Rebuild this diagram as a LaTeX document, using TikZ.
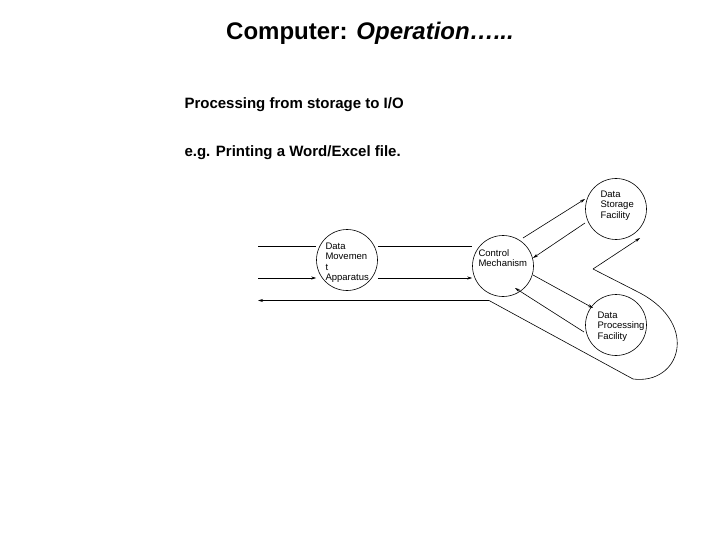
\documentclass[tikz,border=0pt]{standalone}
\usepackage{fontspec}
\setmainfont{Liberation Sans}
\usetikzlibrary{arrows.meta}
\begin{document}
\begin{tikzpicture}[x=1pt,y=-1pt,
  circ/.style={draw,circle,minimum size=61pt,inner sep=0pt,line width=0.6pt},
  lab/.style={font=\fontsize{9.5}{10.5}\selectfont,align=left},
  ln/.style={line width=0.6pt},
  ar/.style={ln,-{Stealth[length=5pt,width=3pt]}}]
\useasboundingbox (0,0) rectangle (720,540);
\node (title) at (370,33) {\fontsize{24}{28}\selectfont\bfseries Computer: \textit{Operation…...}};
\node[anchor=west] (s1) at (181,105) {\fontsize{15}{18}\selectfont\bfseries Processing from storage to I/O};
\node[anchor=west] (s2) at (181,153) {\fontsize{15}{18}\selectfont\bfseries e.g. Printing a Word/Excel file.};
\node[circ] (dma) at (347,260) {};
\node[lab,anchor=north west] at (322,239) {Data\\Movemen\\t\\Apparatus};
\node[circ] (cm) at (503,266) {};
\node[lab,anchor=north west] at (475,246) {Control\\Mechanism};
\node[circ] (dsf) at (616,209) {};
\node[lab,anchor=north west] at (597,187) {Data\\Storage\\Facility};
\node[circ] (dpf) at (616,325) {};
\node[lab,anchor=north west] at (594,308) {Data\\Processing\\Facility};
\coordinate (a1) at (258,246);
\coordinate (a2) at (258,278);
\coordinate (a3) at (258,300.5);
\draw[ln] (a1) -- (dma.west |- a1);
\draw[ln] (dma.east |- a1) -- (cm.west |- a1);
\draw[ar] (a2) -- (dma.west |- a2);
\draw[ar] (dma.east |- a2) -- (cm.west |- a2);
\draw[ar] (523,238) -- (585,199);
\draw[ar] (585,223) -- (533,258);
\draw[ar] (533,275) -- (593,308);
\draw[ar] (584,332) -- (515,288);
\coordinate (v) at (593,269);
\coordinate (t) at (640,238);
\draw[ar] (v) -- (t);
\draw[ar] (v) -- (640,293) .. controls (700,325) and (680,385) .. (633,379) -- (489,300.5) -- (a3);
\end{tikzpicture}
\end{document}
